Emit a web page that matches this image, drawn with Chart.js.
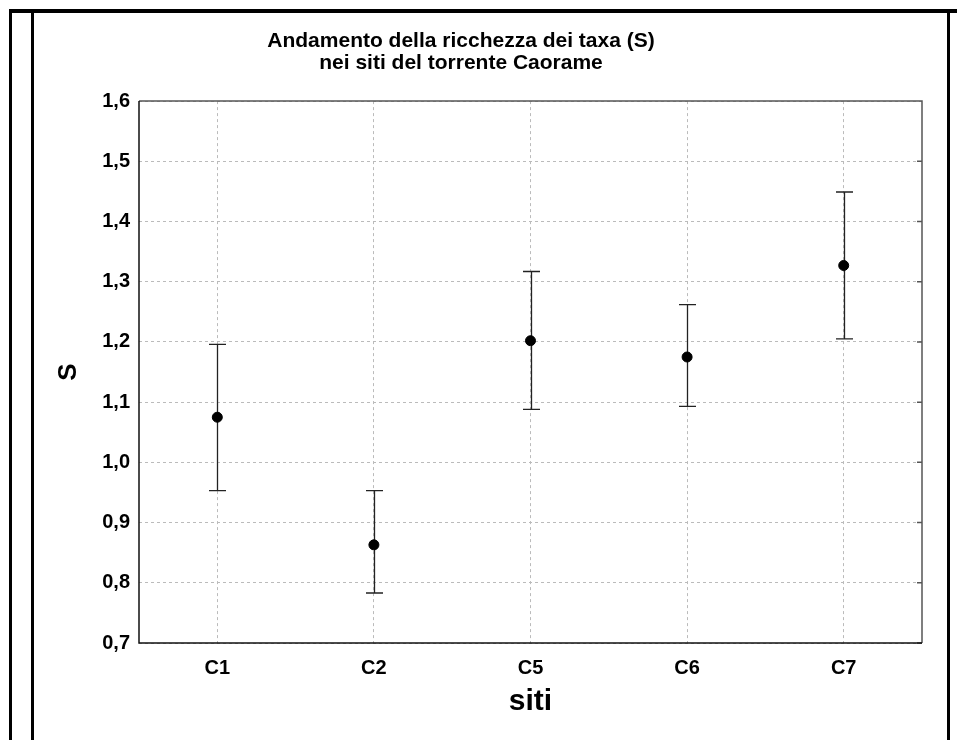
<!DOCTYPE html>
<html>
<head>
<meta charset="utf-8">
<script src="https://cdn.jsdelivr.net/npm/chart.js@4.4.0/dist/chart.umd.min.js"></script>
<style>
  body { margin: 0; background: #fff; }
  #wrap { width: 957px; height: 740px; position: relative; }
</style>
</head>
<body>
<div id="wrap"><canvas id="chartId"></canvas></div>
<script>
var sites = ["C1", "C2", "C5", "C6", "C7"];
var means = [1.075, 0.863, 1.202, 1.175, 1.327];
var upper = [1.196, 0.953, 1.317, 1.262, 1.449];
var lower = [0.953, 0.783, 1.088, 1.093, 1.205];
var yTicks = [0.7, 0.8, 0.9, 1.0, 1.1, 1.2, 1.3, 1.4, 1.5, 1.6];

var sans = "'Liberation Sans', Arial, sans-serif";

// whiskers drawn under the points
var errorBars = {
    id: 'errorBars',
    beforeDatasetsDraw: function (chart) {
        var ctx = chart.ctx;
        var xs = chart.scales.x, ys = chart.scales.y;
        ctx.save();
        ctx.strokeStyle = '#222';
        ctx.lineWidth = 1.3;
        for (var i = 0; i < sites.length; i++) {
            var x = Math.round(xs.getPixelForValue(i)) + 0.5;
            var yu = ys.getPixelForValue(upper[i]);
            var yl = ys.getPixelForValue(lower[i]);
            ctx.beginPath();
            ctx.moveTo(x, yu); ctx.lineTo(x, yl);
            ctx.moveTo(x - 8.5, yu); ctx.lineTo(x + 8.5, yu);
            ctx.moveTo(x - 8.5, yl); ctx.lineTo(x + 8.5, yl);
            ctx.stroke();
        }
        ctx.restore();
    }
};

// plot box, inner ticks on the right and the outer frame
var frame = {
    id: 'frame',
    afterDraw: function (chart) {
        var ctx = chart.ctx, a = chart.chartArea;
        var ys = chart.scales.y;
        ctx.save();
        ctx.lineWidth = 1.5;
        ctx.strokeStyle = '#555';
        ctx.beginPath();
        ctx.moveTo(a.left, a.top); ctx.lineTo(a.right, a.top); ctx.lineTo(a.right, a.bottom);
        yTicks.forEach(function (v) {
            var y = ys.getPixelForValue(v);
            ctx.moveTo(a.right - 5, y); ctx.lineTo(a.right, y);
        });
        ctx.stroke();
        ctx.strokeStyle = '#111';
        ctx.beginPath();
        ctx.moveTo(a.left, a.top); ctx.lineTo(a.left, a.bottom); ctx.lineTo(a.right, a.bottom);
        ctx.stroke();

        ctx.fillStyle = '#000';
        ctx.fillRect(9, 9, chart.width - 9, 4);
        ctx.fillRect(9, 9, 3, chart.height - 9);
        ctx.fillRect(31, 9, 3, chart.height - 9);
        ctx.fillRect(947, 9, 3, chart.height - 9);
        ctx.restore();
    }
};

var chrt = document.getElementById("chartId").getContext("2d");
var chartId = new Chart(chrt, {
    type: 'line',
    data: {
        labels: sites,
        datasets: [{
            label: "S",
            data: means,
            showLine: false,
            pointRadius: 5,
            pointHoverRadius: 5,
            pointBackgroundColor: '#000',
            pointBorderColor: '#000',
            borderColor: '#000'
        }]
    },
    options: {
        responsive: true,
        maintainAspectRatio: false,
        animation: false,
        layout: { padding: { left: 0, right: 35, top: 0, bottom: 20 } },
        plugins: {
            legend: { display: false },
            tooltip: { enabled: false },
            title: {
                display: true,
                text: ["Andamento della ricchezza dei taxa (S)", "nei siti del torrente Caorame"],
                color: '#000',
                font: { family: sans, size: 21, weight: 'bold', lineHeight: 1.05 },
                padding: { top: 30, bottom: 27 }
            }
        },
        scales: {
            x: {
                offset: true,
                grid: { offset: false, color: '#bbb', drawTicks: false, lineWidth: 1 },
                border: { display: false, dash: [3, 3] },
                ticks: { color: '#000', padding: 13, font: { family: sans, size: 20, weight: 'bold' } },
                title: {
                    display: true, text: 'siti', color: '#000',
                    font: { family: sans, size: 30, weight: 'bold' },
                    padding: { top: 0, bottom: 0 }
                },
                afterFit: function (s) { s.height = 77; }
            },
            y: {
                min: 0.7,
                max: 1.6,
                afterBuildTicks: function (s) {
                    s.ticks = yTicks.map(function (v) { return { value: v }; });
                },
                grid: { color: '#bbb', drawTicks: false, lineWidth: 1 },
                border: { display: false, dash: [3, 3] },
                ticks: {
                    color: '#000', padding: 9,
                    font: { family: sans, size: 20, weight: 'bold' },
                    callback: function (v) { return v.toFixed(1).replace('.', ','); }
                },
                title: {
                    display: true, text: 'S', color: '#000',
                    font: { family: sans, size: 26, weight: 'bold' },
                    padding: { top: 53, bottom: 0 }
                },
                afterFit: function (s) { s.width = 139; }
            }
        }
    },
    plugins: [errorBars, frame]
});
</script>
</body>
</html>
